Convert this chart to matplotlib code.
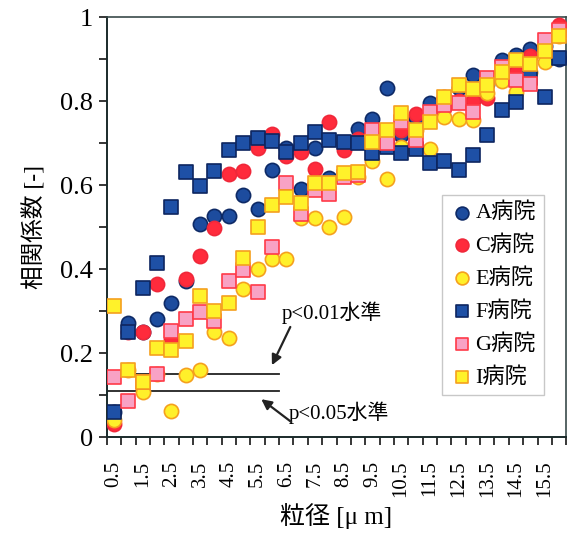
import matplotlib.pyplot as plt
import numpy as np

# particle size categories (um)
sizes = np.arange(1, 33) * 0.5

# correlation coefficient per hospital
hosp_a = [0.06, 0.272, 0.25, 0.281, 0.318, 0.372, 0.507, 0.527, 0.527, 0.577,
          0.542, 0.636, 0.688, 0.59, 0.688, 0.617, 0.70, 0.733, 0.757, 0.832,
          0.72, 0.76, 0.795, 0.786, 0.83, 0.862, 0.84, 0.898, 0.91, 0.923,
          0.93, 0.90]
hosp_c = [0.03, 0.25, 0.25, 0.364, 0.231, 0.376, 0.432, 0.498, 0.626, 0.633,
          0.688, 0.722, 0.668, 0.678, 0.638, 0.75, 0.683, 0.71, 0.72, 0.71,
          0.731, 0.768, 0.77, 0.81, 0.80, 0.80, 0.807, 0.87, 0.87, 0.908,
          0.92, 0.98]
hosp_e = [0.04, 0.16, 0.108, 0.15, 0.063, 0.147, 0.16, 0.25, 0.236, 0.352,
          0.40, 0.424, 0.424, 0.521, 0.521, 0.50, 0.525, 0.62, 0.657, 0.614,
          0.69, 0.73, 0.686, 0.762, 0.758, 0.755, 0.82, 0.847, 0.822, 0.87,
          0.893, 0.955]
hosp_f = [0.06, 0.25, 0.355, 0.415, 0.547, 0.63, 0.598, 0.633, 0.683, 0.70,
          0.713, 0.705, 0.678, 0.70, 0.726, 0.707, 0.703, 0.70, 0.676, 0.69,
          0.677, 0.685, 0.652, 0.657, 0.635, 0.671, 0.719, 0.778, 0.797, 0.855,
          0.81, 0.902]
hosp_g = [0.144, 0.086, 0.131, 0.15, 0.253, 0.282, 0.297, 0.276, 0.372, 0.398,
          0.345, 0.453, 0.605, 0.531, 0.588, 0.579, 0.62, 0.625, 0.731, 0.70,
          0.751, 0.707, 0.773, 0.79, 0.795, 0.775, 0.855, 0.88, 0.85, 0.84,
          0.945, 0.97]
hosp_i = [0.313, 0.16, 0.13, 0.213, 0.207, 0.228, 0.336, 0.30, 0.319, 0.426,
          0.50, 0.552, 0.572, 0.558, 0.605, 0.605, 0.628, 0.632, 0.703, 0.731,
          0.771, 0.731, 0.751, 0.81, 0.838, 0.829, 0.838, 0.87, 0.898, 0.888,
          0.919, 0.955]

# significance levels
p001 = 0.15
p005 = 0.11

serif_jp = ['Liberation Serif', 'Noto Sans CJK JP']
plt.rcParams['font.family'] = serif_jp

fig = plt.figure(figsize=(5.68, 5.49), dpi=100)
ax = fig.add_axes([0.188, 0.204, 0.809, 0.765])

# (label, data, marker, face, edge)
series = [
    ('A病院', hosp_a, 'o', '#1d4c9e', '#0e2a66'),
    ('C病院', hosp_c, 'o', '#ff2b3c', '#f0283a'),
    ('E病院', hosp_e, 'o', '#fff02a', '#f5a01e'),
    ('F病院', hosp_f, 's', '#1e50a6', '#0d2560'),
    ('G病院', hosp_g, 's', '#f8a2c4', '#ff3a48'),
    ('I病院', hosp_i, 's', '#fff22a', '#f5a01e'),
]
for label, vals, mk, fc, ec in series:
    ax.scatter(sizes, vals, s=105 if mk == 'o' else 95, marker=mk,
               facecolor=fc, edgecolor=ec, linewidth=1.2, label=label,
               zorder=3)

# significance lines
ax.plot([0.25, 6.25], [p001, p001], color='#222222', lw=1.3, zorder=2)
ax.plot([0.25, 6.25], [p005, p005], color='#222222', lw=1.3, zorder=2)

arrow = dict(arrowstyle='-|>', color='#222222', lw=1.6, mutation_scale=15,
             shrinkA=0, shrinkB=0)
ax.text(6.35, 0.295, 'p<0.01水準', fontsize=15, ha='left', va='center')
ax.annotate('', xy=(6.0, 0.171), xytext=(6.64, 0.262), arrowprops=arrow)
ax.text(6.6, 0.057, 'p<0.05水準', fontsize=15, ha='left', va='center')
ax.annotate('', xy=(5.63, 0.09), xytext=(6.67, 0.036), arrowprops=arrow)

ax.set_xlim(0.25, 16.25)
ax.set_ylim(0, 1)

ax.set_xticks(np.arange(0.25, 16.3, 0.5), minor=True)
ax.set_xticks(np.arange(0.5, 16, 1.0))
ax.set_xticklabels(['%.1f' % v for v in np.arange(0.5, 16, 1.0)],
                   rotation=90, fontsize=15)
ax.tick_params(axis='x', which='major', length=0, pad=17)
ax.tick_params(axis='x', which='minor', length=6, width=1.1, direction='out')

ax.set_yticks(np.arange(0, 1.01, 0.2))
ax.set_yticklabels(['0', '0.2', '0.4', '0.6', '0.8', '1'], fontsize=19)
ax.set_yticks(np.arange(0.1, 1.0, 0.2), minor=True)
ax.tick_params(axis='y', which='both', length=6, width=1.1, direction='out',
               pad=4)

for side in ['left', 'bottom']:
    ax.spines[side].set_linewidth(1.4)
    ax.spines[side].set_color('#1a2a2a')
for side in ['top', 'right']:
    ax.spines[side].set_linewidth(1.2)
    ax.spines[side].set_color('#3a4a4a')

ax.set_xlabel('粒径 [μ m]', fontsize=18, labelpad=4)
ax.set_ylabel('相関係数 [-]', fontsize=17, labelpad=10)

leg = ax.legend(loc='upper left', bbox_to_anchor=(0.73, 0.576), fontsize=16,
                frameon=True, fancybox=False, edgecolor='#bbbbbb',
                handletextpad=0.05, labelspacing=0.55, borderpad=0.35,
                handlelength=1.1, markerscale=0.9, borderaxespad=0)
leg.get_frame().set_linewidth(1.0)

fig.savefig('out.png', dpi=100)
